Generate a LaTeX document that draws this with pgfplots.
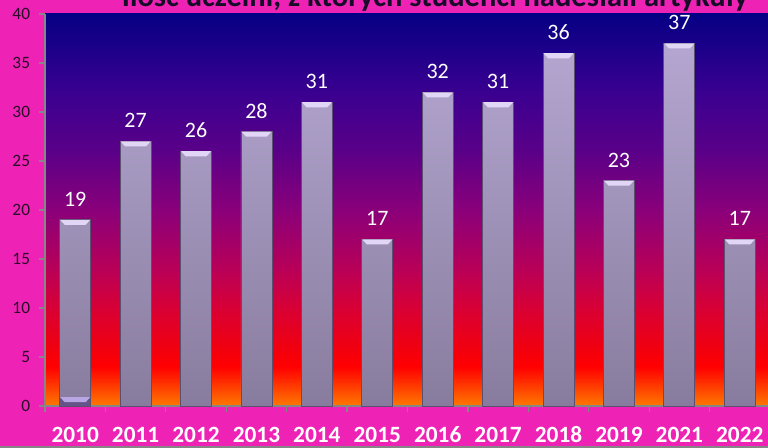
\documentclass[border=0pt]{standalone}
\usepackage{pgfplots}
\pgfplotsset{compat=1.18}
\usepackage{fontspec}
\setmainfont{Carlito}
\definecolor{bgmag}{RGB}{238,34,180}
\definecolor{titlecol}{RGB}{22,12,40}
\definecolor{ytickcol}{RGB}{40,12,40}
\definecolor{axgray}{RGB}{134,134,134}
\definecolor{bartop}{RGB}{180,166,208}
\definecolor{barbot}{RGB}{136,124,158}
\definecolor{baredge}{RGB}{92,80,112}
\definecolor{bevelc}{RGB}{226,214,246}
\definecolor{smallbar}{RGB}{100,84,136}
\definecolor{bevelb}{RGB}{184,166,228}
\definecolor{g0}{RGB}{255,122,0}
\definecolor{g2}{RGB}{255,60,0}
\definecolor{g4}{RGB}{255,0,0}
\definecolor{g6}{RGB}{240,0,16}
\definecolor{g10}{RGB}{216,0,53}
\definecolor{g14}{RGB}{184,0,88}
\definecolor{g20}{RGB}{138,0,122}
\definecolor{g26}{RGB}{90,0,136}
\definecolor{g32}{RGB}{58,0,144}
\definecolor{g40}{RGB}{6,0,132}
\pgfdeclareverticalshading{plotbg}{100bp}{color(0bp)=(g0); color(25bp)=(g0); color(27.5bp)=(g2); color(30bp)=(g4); color(32.5bp)=(g6); color(37.5bp)=(g10); color(42.5bp)=(g14); color(50bp)=(g20); color(57.5bp)=(g26); color(65bp)=(g32); color(75bp)=(g40); color(100bp)=(g40)}
\pgfdeclareplotmark{bevel}{%
  \pgfpathmoveto{\pgfqpoint{-11.3pt}{0pt}}%
  \pgfpathlineto{\pgfqpoint{11.3pt}{0pt}}%
  \pgfpathlineto{\pgfqpoint{7.8pt}{-3.8pt}}%
  \pgfpathlineto{\pgfqpoint{-7.8pt}{-3.8pt}}%
  \pgfpathclose
  \pgfusepathqfill}
\begin{document}
\begin{tikzpicture}[x=0.75pt,y=0.75pt]
\useasboundingbox (0,0) rectangle (768,448);
\fill[bgmag] (0,0) rectangle (768,448);
\fill[axgray] (0,0) rectangle (768,1.5);
\clip (0,0) rectangle (768,448);
\node[anchor=base, font=\fontsize{22.9}{25}\selectfont\bfseries, text=titlecol, inner sep=0pt] at (435,441) {Ilość uczelni, z których studenci nadesłali artykuły};
\begin{axis}[
  at={(33.75pt,31.5pt)}, anchor=south west,
  scale only axis, width=543.75pt, height=294pt,
  xmin=-0.5, xmax=11.5, ymin=0, ymax=40,
  axis x line*=bottom, axis y line*=left,
  axis line style={axgray, line width=0.9pt},
  axis background/.style={shade, shading=plotbg},
  tick align=outside, major tick length=4.5pt,
  every tick/.style={axgray, line width=0.9pt},
  /pgf/number format/assume math mode=true,
  ytick={0,5,...,40},
  yticklabel style={font=\fontsize{13}{15}\selectfont, text=ytickcol, anchor=east, inner sep=0pt, xshift=-6.5pt},
  xtick={-0.5,0.5,...,11.5}, xticklabels={},
  extra x ticks={0,1,2,3,4,5,6,7,8,9,10,11},
  extra x tick labels={2010,2011,2012,2013,2014,2015,2016,2017,2018,2019,2021,2022},
  extra x tick style={major tick length=0pt, tick label style={font=\fontsize{17.5}{20}\selectfont\bfseries, text=white, anchor=base, inner sep=0pt, yshift=-27.75pt}},
  clip=false,
]
\addplot[ybar, bar width=23.25pt, bar shift=0pt, draw=baredge, line width=0.6pt, top color=bartop, bottom color=barbot,
  nodes near coords, every node near coord/.append style={font=\fontsize{16.5}{18}\selectfont, text=white, anchor=south, inner sep=0pt, yshift=9.75pt}]
  coordinates {(0,19) (1,27) (2,26) (3,28) (4,31) (5,17) (6,32) (7,31) (8,36) (9,23) (10,37) (11,17)};
\addplot[ybar, bar width=23.25pt, bar shift=0pt, draw=baredge, line width=0.6pt, fill=smallbar]
  coordinates {(0,0.9)};
\addplot[only marks, mark=bevel, mark options={fill=bevelc, draw=none}]
  coordinates {(0,19) (1,27) (2,26) (3,28) (4,31) (5,17) (6,32) (7,31) (8,36) (9,23) (10,37) (11,17)};
\addplot[only marks, mark=bevel, mark options={fill=bevelb, draw=none}]
  coordinates {(0,0.9)};
\end{axis}
\end{tikzpicture}
\end{document}
